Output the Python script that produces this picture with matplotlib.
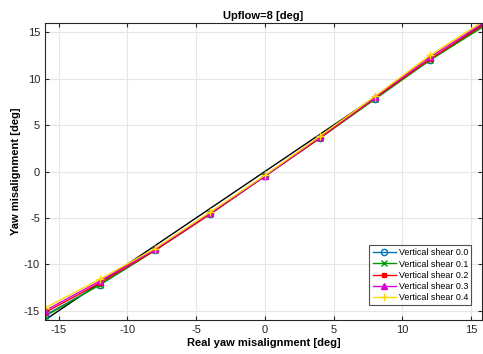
import numpy as np
import matplotlib
matplotlib.use("Agg")
import matplotlib.pyplot as plt

plt.rcParams['font.family'] = ['Liberation Sans', 'DejaVu Sans']
plt.rcParams['axes.unicode_minus'] = False

# ---------------------------------------------------------------------------
# Data
# ---------------------------------------------------------------------------
real_yaw = [-16, -12, -8, -4, 0, 4, 8, 12, 16]
shear_0_0 = [-15.5, -12.2, -8.5, -4.6, -0.5, 3.6, 7.8, 12.0, 15.8]
shear_0_1 = [-15.6, -12.2, -8.5, -4.6, -0.5, 3.6, 7.8, 12.0, 15.7]
shear_0_2 = [-15.2, -12.0, -8.5, -4.6, -0.5, 3.6, 7.9, 12.1, 15.9]
shear_0_3 = [-15.0, -11.8, -8.4, -4.5, -0.5, 3.7, 8.0, 12.3, 16.1]
shear_0_4 = [-14.7, -11.6, -8.3, -4.4, -0.4, 3.8, 8.1, 12.5, 16.3]
labels = ["Vertical shear 0.0", "Vertical shear 0.1", "Vertical shear 0.2",
          "Vertical shear 0.3", "Vertical shear 0.4"]
xticks = [-15, -10, -5, 0, 5, 10, 15]
yticks = [-15, -10, -5, 0, 5, 10, 15]

fig = plt.figure(figsize=(4.83, 3.54), dpi=100)
ax = fig.add_axes([0.093, 0.096, 0.905, 0.839])

# reference y = x
ax.plot(real_yaw, real_yaw, color="black", lw=1.0)

styles = [
    ((0.0, 0.447, 0.741), "o", dict(mfc="none", ms=4.5)),
    ((0.0, 0.6, 0.0), "x", dict(ms=4.5)),
    ((1.0, 0.0, 0.0), "s", dict(ms=3.5)),
    ((0.85, 0.0, 0.85), "^", dict(ms=4.5)),
    ((1.0, 0.85, 0.0), "+", dict(ms=5.5)),
]
series = [shear_0_0, shear_0_1, shear_0_2, shear_0_3, shear_0_4]
for vals, lbl, (col, mk, kw) in zip(series, labels, styles):
    ax.plot(real_yaw, vals, color=col, marker=mk, lw=1.0, label=lbl, **kw)

ax.set_xlim(-16, 15.8)
ax.set_ylim(-16, 16)
ax.set_xticks(xticks)
ax.set_yticks(yticks)
ax.tick_params(direction="in", top=True, right=True, labelsize=8, length=3,
               colors="#262626")
ax.grid(True, color="#e6e6e6", lw=0.8)
ax.set_axisbelow(True)
for s in ax.spines.values():
    s.set_color("#262626")
    s.set_linewidth(0.8)

ax.set_title("Upflow=8 [deg]", fontsize=8, fontweight="bold", pad=3)
ax.set_xlabel("Real yaw misalignment [deg]", fontsize=8, fontweight="bold", labelpad=2)
ax.set_ylabel("Yaw misalignment [deg]", fontsize=8, fontweight="bold", labelpad=2)

leg = ax.legend(loc="lower right", fontsize=6.4, frameon=True, fancybox=False,
                handlelength=2.6, borderpad=0.4, labelspacing=0.24,
                handletextpad=0.3, bbox_to_anchor=(0.986, 0.034))
leg.get_frame().set_edgecolor("#262626")
leg.get_frame().set_linewidth(0.8)

fig.savefig("out.png", dpi=100)
